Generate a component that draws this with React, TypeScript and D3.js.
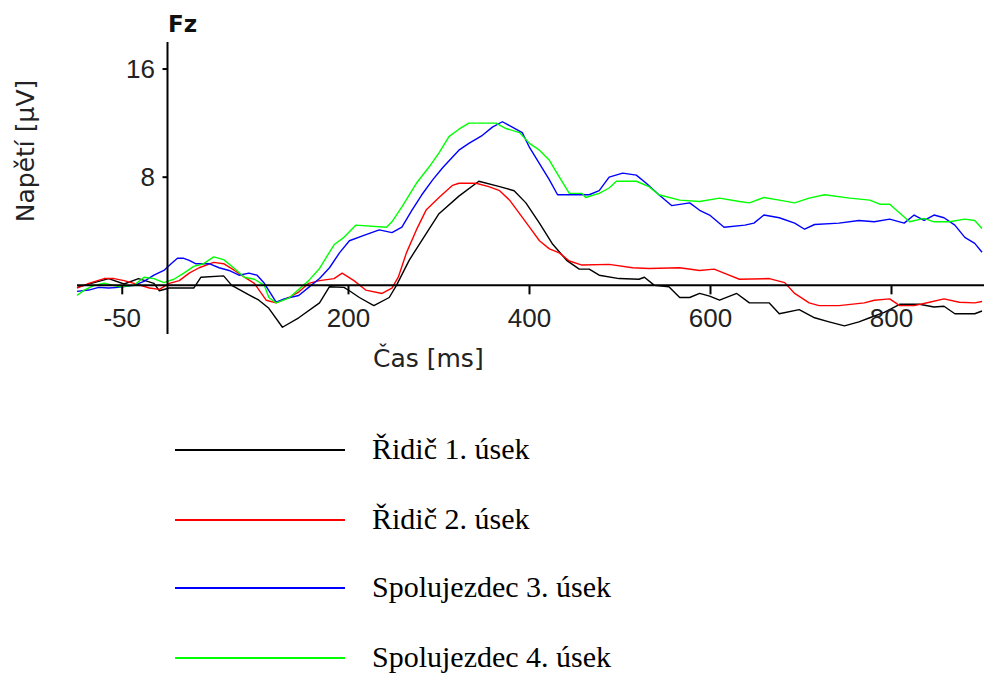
import React from 'react';
import * as d3 from 'd3';

// ERP at Fz, four conditions (time in ms, voltage in µV)
const ridic1T = [-100, -65, -48, -32, -15, -9, 2, 29, 37, 62, 71, 90, 101, 112, 127, 145, 168, 179, 195, 201, 212, 228, 245, 253, 267, 286, 300, 322, 344, 367, 383, 396, 411, 425, 441, 455, 466, 477, 499, 521, 527, 538, 554, 566, 577, 588, 599, 610, 629, 643, 665, 676, 698, 715, 731, 748, 764, 776, 792, 809, 831, 847, 858, 870, 892, 900];
const ridic1V = [-0.15, 0.5, 0.1, 0.5, 0.15, -0.4, -0.2, -0.2, 0.6, 0.7, 0, -0.7, -1.1, -1.7, -3.1, -2.4, -1.3, -0.1, -0.15, -0.4, -0.9, -1.5, -0.9, 0, 1.85, 3.85, 5.3, 6.6, 7.7, 7.3, 7.0, 6.1, 4.6, 3.1, 1.85, 1.2, 1.2, 0.75, 0.5, 0.45, 0.6, 0, -0.1, -0.9, -0.9, -0.6, -0.8, -1.1, -0.6, -1.3, -1.3, -2.1, -1.8, -2.4, -2.7, -3.0, -2.7, -2.4, -2.0, -1.4, -1.4, -1.6, -1.55, -2.1, -2.1, -1.9];

const ridic2T = [-100, -87, -70, -59, -48, -37, -20, -9, 2, 13, 24, 35, 51, 62, 74, 85, 96, 109, 120, 134, 145, 156, 168, 184, 193, 206, 219, 237, 248, 255, 264, 275, 286, 300, 315, 322, 341, 355, 367, 378, 389, 400, 411, 422, 433, 444, 458, 488, 514, 532, 566, 588, 604, 615, 632, 665, 682, 693, 709, 720, 742, 770, 781, 798, 809, 825, 842, 858, 875, 892, 900];
const ridic2V = [-0.2, 0.15, 0.5, 0.5, 0.35, 0.15, -0.2, -0.3, 0.15, 0.35, 0.9, 1.3, 1.7, 1.6, 1.1, 0.6, 0.15, -1.1, -1.3, -0.9, -0.5, 0.15, 0.35, 0.5, 0.9, 0.35, -0.35, -0.6, -0.2, 0.6, 2.4, 4.1, 5.6, 6.5, 7.4, 7.55, 7.55, 7.3, 7.0, 6.3, 5.3, 4.3, 3.3, 2.7, 2.4, 1.8, 1.5, 1.55, 1.3, 1.25, 1.3, 1.1, 1.2, 0.9, 0.45, 0.5, 0.2, -0.6, -1.3, -1.5, -1.5, -1.3, -1.1, -1.0, -1.5, -1.5, -1.25, -1.0, -1.25, -1.3, -1.2];

const spolu3T = [-100, -87, -76, -65, -54, -37, -26, -15, -4, 4, 11, 18, 24, 31, 46, 57, 68, 79, 90, 99, 107, 120, 129, 145, 156, 168, 179, 190, 201, 217, 234, 248, 259, 270, 281, 293, 304, 315, 322, 333, 348, 359, 370, 381, 392, 400, 411, 422, 431, 466, 477, 488, 503, 518, 529, 543, 557, 577, 588, 599, 615, 638, 648, 659, 676, 693, 704, 715, 742, 764, 781, 798, 814, 825, 836, 847, 858, 870, 881, 892, 900];
const spolu3V = [-0.45, -0.35, -0.15, -0.2, -0.15, 0, 0.3, 0.75, 1.1, 1.6, 2.0, 2.0, 1.85, 1.6, 1.6, 1.3, 1.1, 0.75, 0.9, 0.75, 0.15, -1.25, -1.0, -0.75, -0.15, 0.5, 1.3, 2.4, 3.3, 3.7, 4.1, 3.9, 4.3, 5.55, 6.7, 7.8, 8.7, 9.5, 10.0, 10.5, 11.1, 11.7, 12.1, 11.7, 11.3, 10.2, 9.0, 7.8, 6.7, 6.7, 7.0, 8.0, 8.3, 8.15, 7.55, 6.7, 5.9, 6.1, 5.55, 5.2, 4.3, 4.45, 4.6, 5.2, 5.0, 4.6, 4.15, 4.5, 4.6, 4.8, 4.7, 4.9, 4.6, 5.2, 4.8, 5.2, 5.0, 4.45, 3.55, 3.1, 2.45];

const spolu4T = [-100, -92, -81, -70, -54, -37, -26, -15, -4, 7, 18, 29, 40, 51, 62, 74, 85, 96, 107, 112, 120, 134, 156, 168, 184, 195, 208, 242, 248, 259, 275, 289, 300, 311, 322, 333, 363, 374, 389, 400, 411, 422, 433, 444, 458, 462, 477, 488, 496, 518, 532, 543, 566, 588, 610, 632, 643, 659, 676, 693, 709, 726, 754, 776, 787, 798, 809, 820, 836, 847, 864, 881, 892, 900];
const spolu4V = [-0.75, -0.35, 0, 0.15, -0.1, 0, 0.6, 0.5, 0.2, 0.45, 0.9, 1.4, 1.6, 2.1, 1.9, 1.25, 0.6, 0.45, 0, -0.9, -1.3, -0.95, 0.35, 1.25, 3.0, 3.55, 4.45, 4.3, 4.7, 5.8, 7.55, 8.75, 9.8, 11.0, 11.55, 12.0, 12.0, 11.6, 11.3, 10.5, 10.0, 9.25, 8.0, 6.8, 6.8, 6.5, 6.8, 7.2, 7.7, 7.7, 7.3, 6.7, 6.3, 6.2, 6.45, 6.2, 6.1, 6.5, 6.3, 6.1, 6.45, 6.7, 6.45, 6.3, 6.0, 6.0, 5.35, 4.7, 4.95, 4.7, 4.7, 4.9, 4.8, 4.2];

const seriesNames = ['Řidič 1. úsek', 'Řidič 2. úsek', 'Spolujezdec 3. úsek', 'Spolujezdec 4. úsek'];
const seriesColors = ['#000000', '#ff0000', '#0000ff', '#00ff00'];
const xTicks = [-50, 200, 400, 600, 800];
const yTicks = [8, 16];

const W = 984;
const H = 675;
const sans = '"DejaVu Sans", Verdana, sans-serif';
const tickFont = '"Liberation Sans", Arial, sans-serif';

export default function App() {
  const x = d3.scaleLinear().domain([-100, 900]).range([77, 982]);
  const y = d3.scaleLinear().domain([-3.6, 18]).range([334, 42]);

  const series = [
    { t: ridic1T, v: ridic1V },
    { t: ridic2T, v: ridic2V },
    { t: spolu3T, v: spolu3V },
    { t: spolu4T, v: spolu4V },
  ];

  const line = d3.line<[number, number]>()
    .x(d => x(d[0]))
    .y(d => y(d[1]));

  const x0 = x(0);
  const y0 = y(0);

  // legend rows
  const legendY = [450, 520, 588, 658];

  return (
    <>
      <style>{'body{margin:0;background:#fff}'}</style>
      <svg width={W} height={H} style={{ display: 'block' }}>
        <rect width={W} height={H} fill="#ffffff" />

        {/* title */}
        <text x={168} y={32} fontFamily={sans} fontWeight="bold" fontSize={23} fill="#111">Fz</text>

        {/* y axis label */}
        <text
          transform={`translate(34,151) rotate(-90)`}
          textAnchor="middle"
          fontFamily={sans}
          fontSize={25}
          fill="#222"
        >
          Napětí [µV]
        </text>

        {/* x axis label */}
        <text x={373} y={367} fontFamily={sans} fontSize={25} fill="#222">Čas [ms]</text>

        {/* data */}
        {series.map((s, i) => (
          <path
            key={i}
            d={line(s.t.map((t, k) => [t, s.v[k]] as [number, number])) || ''}
            fill="none"
            stroke={seriesColors[i]}
            strokeWidth={1.4}
            strokeLinejoin="round"
          />
        ))}

        {/* zero line + x ticks */}
        <line x1={x(-100)} x2={W} y1={y0} y2={y0} stroke="#000" strokeWidth={2} />
        {xTicks.map(t => (
          <g key={t}>
            <line x1={x(t)} x2={x(t)} y1={y0} y2={y0 + 9} stroke="#000" strokeWidth={2} />
            <text
              x={x(t)}
              y={327}
              textAnchor="middle"
              fontFamily={tickFont}
              fontSize={26}
              fill="#222"
            >
              {t}
            </text>
          </g>
        ))}

        {/* y axis */}
        <line x1={x0} x2={x0} y1={42} y2={334} stroke="#000" strokeWidth={2} />
        {yTicks.map(t => (
          <g key={t}>
            <line x1={x0 - 5} x2={x0} y1={y(t)} y2={y(t)} stroke="#000" strokeWidth={2} />
            <text
              x={155}
              y={y(t) + 9}
              textAnchor="end"
              fontFamily={tickFont}
              fontSize={26}
              fill="#222"
            >
              {t}
            </text>
          </g>
        ))}

        {/* legend */}
        {seriesNames.map((name, i) => (
          <g key={name}>
            <line x1={175} x2={345} y1={legendY[i]} y2={legendY[i]} stroke={seriesColors[i]} strokeWidth={2} />
            <text
              x={372}
              y={legendY[i] + 9}
              fontFamily={'"Liberation Serif", "Times New Roman", serif'}
              fontSize={30}
              fill="#000"
            >
              {name}
            </text>
          </g>
        ))}
      </svg>
    </>
  );
}
